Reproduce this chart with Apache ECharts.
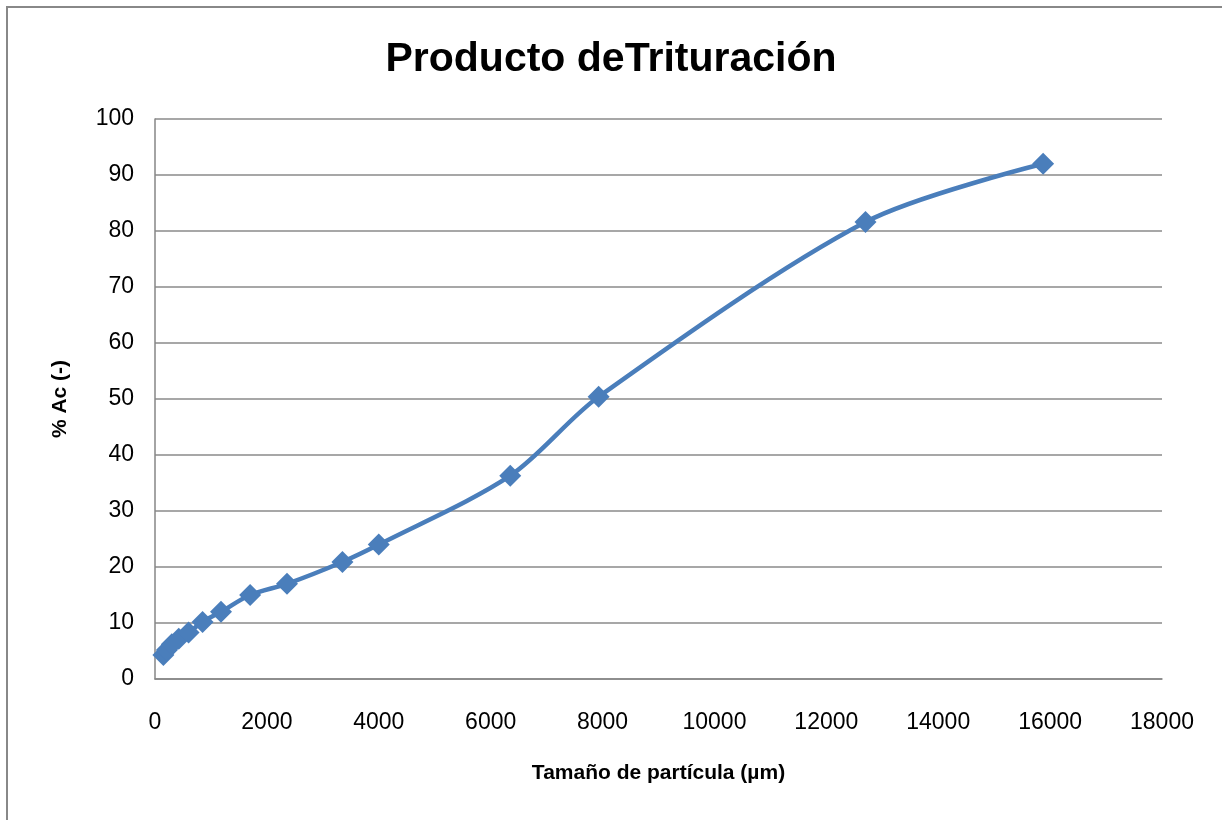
<!DOCTYPE html>
<html><head><meta charset="utf-8">
<script src="https://cdn.jsdelivr.net/npm/echarts@6/dist/echarts.min.js"></script>
<style>
html,body{margin:0;padding:0;background:#fff;}
#c{width:1222px;height:820px;}
#frame{position:absolute;left:6px;top:6px;width:1300px;height:900px;border-left:2px solid #888;border-top:2px solid #888;pointer-events:none;}
</style></head><body>
<div id="c"></div><div id="frame"></div>
<script>
var sizes = [150, 212, 300, 425, 600, 850, 1180, 1700, 2360, 3350, 4000, 6350, 7930, 12700, 15875];
var accum = [4.3, 5.2, 6.2, 7.2, 8.3, 10.2, 12.0, 15.0, 17.0, 20.9, 24.0, 36.3, 50.4, 81.6, 92.0];
var xTicks = [0, 2000, 4000, 6000, 8000, 10000, 12000, 14000, 16000, 18000];
var yTicks = [0, 10, 20, 30, 40, 50, 60, 70, 80, 90, 100];
var titleText = 'Producto deTrituración';
var xName = 'Tamaño de partícula (µm)';
var yName = '% Ac (-)';

var font = "'Liberation Sans', 'Noto Sans', sans-serif";
var chart = echarts.init(document.getElementById('c'), null, {renderer: 'canvas'});
chart.setOption({
  animation: false,
  backgroundColor: '#fff',
  title: {text: titleText, left: 'center', top: 34,
    textStyle: {fontFamily: font, fontWeight: 'bold', fontSize: 41, color: '#000'}},
  grid: {left: 155, right: 60, top: 119, bottom: 141},
  xAxis: {type: 'value', min: xTicks[0], max: xTicks[xTicks.length-1], interval: 2000,
    name: xName, nameLocation: 'middle', nameGap: 84,
    nameTextStyle: {fontFamily: font, fontWeight: 'bold', fontSize: 21, color: '#000'},
    axisLine: {show: true, lineStyle: {color: '#868686', width: 1.5}},
    axisTick: {show: false},
    axisLabel: {fontFamily: font, fontSize: 23, color: '#000', margin: 32,
      formatter: function(v){ return String(v); }},
    splitLine: {show: false}},
  yAxis: {type: 'value', min: yTicks[0], max: yTicks[yTicks.length-1], interval: 10,
    name: yName, nameLocation: 'middle', nameGap: 84, nameRotate: 90,
    nameTextStyle: {fontFamily: font, fontWeight: 'bold', fontSize: 21, color: '#000'},
    axisLine: {show: true, lineStyle: {color: '#868686', width: 1.5}},
    axisTick: {show: false},
    axisLabel: {fontFamily: font, fontSize: 23, color: '#000', margin: 21},
    splitLine: {show: true, lineStyle: {color: '#8a8a8a', width: 1.5}}},
  series: [{
    type: 'line',
    data: sizes.map(function(s, i){ return [s, accum[i]]; }),
    smooth: 0.3,
    symbol: 'diamond', symbolSize: 22,
    lineStyle: {color: '#4A7EBB', width: 4.5},
    itemStyle: {color: '#4A7EBB'}
  }]
});
</script>
</body></html>
